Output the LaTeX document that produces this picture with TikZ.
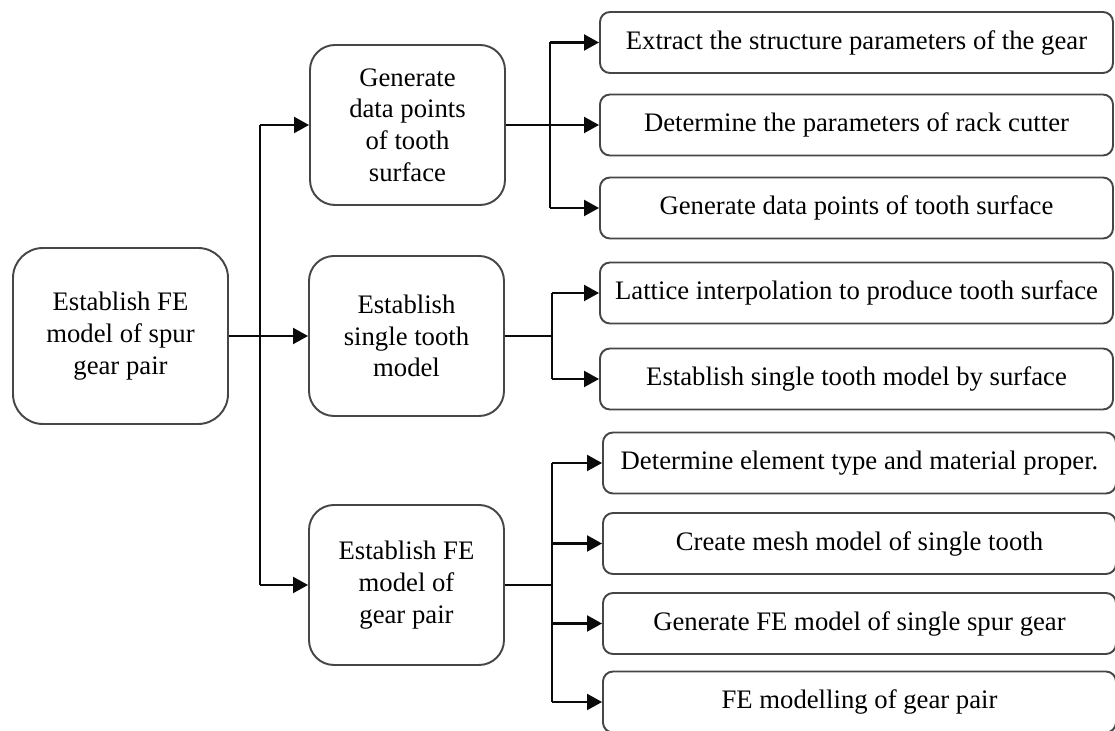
\documentclass[tikz,border=0pt]{standalone}
\usepackage{fontspec}
\setmainfont{Liberation Serif}
\usepackage{tikz}
\usetikzlibrary{arrows.meta, positioning, calc}
\definecolor{boxBorder}{RGB}{70, 70, 70}
\definecolor{lineDark}{RGB}{10, 10, 10}

\begin{document}
\begin{tikzpicture}[
    root/.style={
        rectangle,
        rounded corners=0.6cm,
        minimum width=4.3cm,
        minimum height=3.52cm,
        text centered,
        align=center,
        font=\fontsize{15.2}{18}\selectfont,
        draw=boxBorder,
        line width=1.1pt,
        fill=white
    },
    phase/.style={
        root,
        rounded corners=0.5cm,
        minimum width=3.9cm,
        minimum height=3.2cm
    },
    task/.style={
        root,
        rounded corners=0.2cm,
        minimum width=10.26cm,
        minimum height=1.22cm
    },
    link/.style={
        draw=lineDark,
        line width=1.2pt
    },
    arrow/.style={
        link,
        -{Triangle[length=0.3cm,width=0.32cm]}
    }
]

\useasboundingbox (0,0) rectangle (22.3,-14.62);

% Main box
\node[root] (model) at (2.41, -6.72) {Establish FE\\model of spur\\gear pair};

% Phases
\node[phase] (points) at (8.15, -2.5) {Generate\\data points\\of tooth\\surface};
\node[phase] (single) at (8.13, -6.72) {Establish\\single tooth\\model};
\node[phase] (pair) at (8.13, -11.7) {Establish FE\\model of\\gear pair};

% Tasks
\node[task] (extract) at (17.13, -0.85) {Extract the structure parameters of the gear};
\node[task] (rack) at (17.13, -2.5) {Determine the parameters of rack cutter};
\node[task] (datapts) at (17.13, -4.16) {Generate data points of tooth surface};
\node[task] (lattice) at (17.13, -5.86) {Lattice interpolation to produce tooth surface};
\node[task] (bysurf) at (17.13, -7.58) {Establish single tooth model by surface};
\node[task] (element) at (17.19, -9.26) {Determine element type and material proper.};
\node[task] (mesh) at (17.19, -10.87) {Create mesh model of single tooth};
\node[task] (spur) at (17.19, -12.47) {Generate FE model of single spur gear};
\node[task] (fepair) at (17.19, -14.04) {FE modelling of gear pair};

% Forks
\coordinate (trunk) at (5.2, 0);
\coordinate (forkA) at (11.0, 0);
\coordinate (forkB) at (11.04, 0);
\coordinate (forkC) at (11.04, 0);

% Main to phases
\draw[arrow] (model.east) -- (single.west);
\draw[link] (points.west -| trunk) -- (pair.west -| trunk);
\draw[arrow] (points.west -| trunk) -- (points.west);
\draw[arrow] (pair.west -| trunk) -- (pair.west);

% Phase 1 to tasks
\draw[arrow] (points.east) -- (rack.west);
\draw[link] (extract.west -| forkA) -- (datapts.west -| forkA);
\draw[arrow] (extract.west -| forkA) -- (extract.west);
\draw[arrow] (datapts.west -| forkA) -- (datapts.west);

% Phase 2 to tasks
\draw[link] (single.east) -- (single.east -| forkB);
\draw[link] (lattice.west -| forkB) -- (bysurf.west -| forkB);
\draw[arrow] (lattice.west -| forkB) -- (lattice.west);
\draw[arrow] (bysurf.west -| forkB) -- (bysurf.west);

% Phase 3 to tasks
\draw[link] (pair.east) -- (pair.east -| forkC);
\draw[link] (element.west -| forkC) -- (fepair.west -| forkC);
\draw[arrow] (element.west -| forkC) -- (element.west);
\draw[arrow] (mesh.west -| forkC) -- (mesh.west);
\draw[arrow] (spur.west -| forkC) -- (spur.west);
\draw[arrow] (fepair.west -| forkC) -- (fepair.west);

\end{tikzpicture}
\end{document}
